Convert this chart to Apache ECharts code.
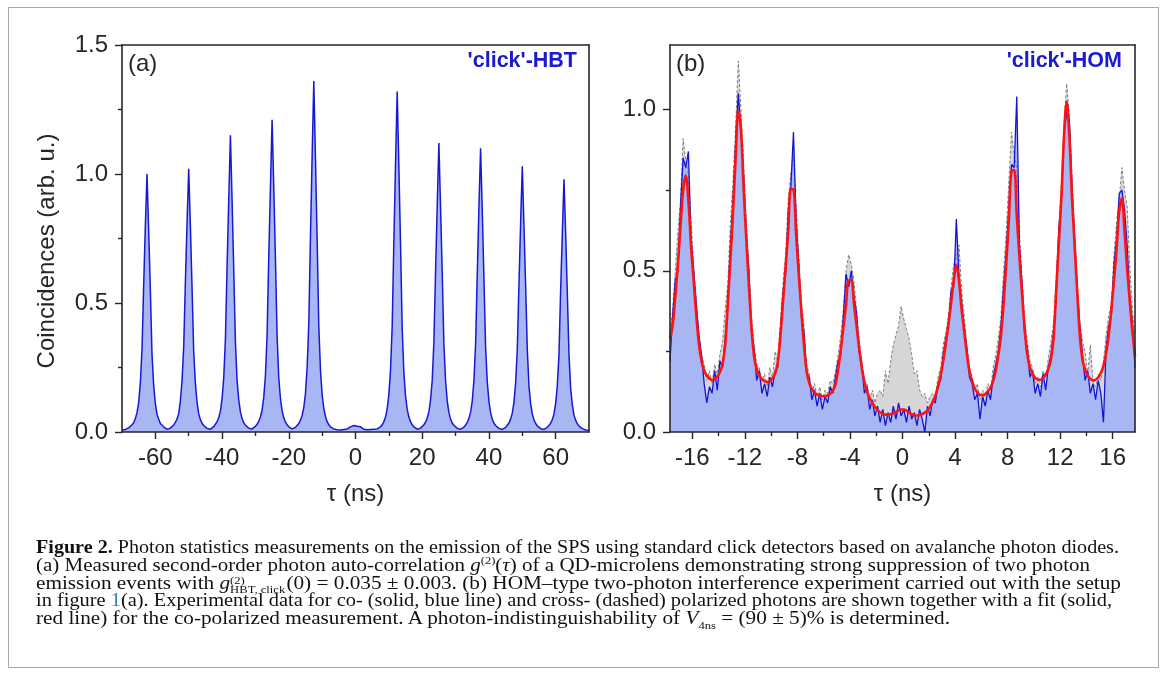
<!DOCTYPE html>
<html><head><meta charset="utf-8">
<script src="https://cdn.jsdelivr.net/npm/echarts@6/dist/echarts.min.js"></script>
<style>
html,body{margin:0;padding:0;background:#fff;}
#wrap{position:relative;width:1168px;height:675px;overflow:hidden;background:#fff;}
#chart{position:absolute;left:0;top:0;width:1168px;height:675px;}
#frame{position:absolute;left:8px;top:7px;width:1151px;height:661px;border:1px solid #a8a8a8;box-sizing:border-box;pointer-events:none;}
#caption{position:absolute;left:36px;top:539px;font-family:"Liberation Serif","DejaVu Serif",serif;font-size:18.5px;color:#111;}
.ln{position:absolute;left:0;white-space:nowrap;transform-origin:0 0;line-height:17.8px;}
.ss{display:inline-block;vertical-align:-4px;font-size:11px;line-height:9px;text-align:left;margin-right:1px;}
.ss span{display:block;}
sup,sub{font-size:11px;line-height:0;}
</style></head>
<body><div id="wrap"><div id="chart"></div><div id="frame"></div>
<div id="caption">
<div class="ln" style="top:0px" data-w="1083"><b>Figure 2.</b> Photon statistics measurements on the emission of the SPS using standard click detectors based on avalanche photon diodes.</div>
<div class="ln" style="top:17.8px" data-w="1054">(a) Measured second-order photon auto-correlation <i>g</i><sup>(2)</sup>(<i>τ</i>) of a QD-microlens demonstrating strong suppression of two photon</div>
<div class="ln" style="top:35.6px" data-w="1085">emission events with <i>g</i><span class="ss"><span>(2)</span><span>HBT, click</span></span>(0) = 0.035 ± 0.003. (b) HOM–type two-photon interference experiment carried out with the setup</div>
<div class="ln" style="top:53.4px" data-w="1076">in figure <span style="color:#2b7fc0">1</span>(a). Experimental data for co- (solid, blue line) and cross- (dashed) polarized photons are shown together with a fit (solid,</div>
<div class="ln" style="top:71.2px" data-w="914">red line) for the co-polarized measurement. A photon-indistinguishability of <i>V</i><sub>4ns</sub> = (90 ± 5)% is determined.</div>
</div>
</div>
<script>
// ---------------- DATA ----------------
// Panel (a): 'click'-HBT, tau from -70 ns in 0.5 ns steps
const tauAStart = -70, tauAStep = 0.5;
const coincA = [
 0.008,0.006,0.010,
 0.014,0.016,0.022,0.028,0.036,0.052,0.075,0.115,0.19,0.32,0.57,0.80,1.00,0.78,0.55,0.30,0.18,0.11,0.068,0.05,0.033,0.026,0.02,0.013,0.01,
 0.012,0.015,0.02,0.027,0.038,0.05,0.072,0.12,0.2,0.33,0.58,0.81,1.02,0.80,0.56,0.31,0.19,0.115,0.07,0.048,0.034,0.025,0.018,0.014,0.01,
 0.011,0.016,0.021,0.03,0.04,0.056,0.08,0.13,0.21,0.36,0.64,0.9,1.15,0.9,0.63,0.35,0.2,0.125,0.078,0.052,0.036,0.026,0.02,0.015,0.011,
 0.012,0.016,0.022,0.03,0.042,0.058,0.085,0.135,0.22,0.38,0.68,0.95,1.21,0.95,0.67,0.37,0.21,0.13,0.082,0.055,0.038,0.028,0.02,0.015,0.012,
 0.013,0.018,0.024,0.033,0.046,0.064,0.095,0.15,0.25,0.42,0.76,1.07,1.36,1.06,0.75,0.41,0.24,0.145,0.09,0.06,0.04,0.028,0.02,0.015,0.012,
 0.01,0.009,0.012,0.008,0.011,0.01,0.014,0.012,0.016,0.02,0.018,0.025,0.03,0.022,0.017,0.02,0.013,0.011,0.015,0.009,0.012,0.01,0.008,0.011,0.01,
 0.012,0.015,0.02,0.028,0.04,0.058,0.09,0.145,0.24,0.41,0.74,1.04,1.32,1.03,0.73,0.4,0.23,0.14,0.088,0.058,0.04,0.028,0.02,0.015,0.011,
 0.011,0.015,0.02,0.028,0.038,0.054,0.078,0.125,0.2,0.35,0.62,0.88,1.12,0.87,0.62,0.34,0.2,0.12,0.076,0.05,0.035,0.026,0.019,0.014,0.011,
 0.011,0.014,0.019,0.027,0.037,0.053,0.077,0.12,0.2,0.34,0.61,0.87,1.10,0.86,0.6,0.33,0.195,0.12,0.075,0.05,0.034,0.025,0.018,0.014,0.01,
 0.01,0.014,0.018,0.026,0.035,0.05,0.073,0.115,0.19,0.32,0.57,0.81,1.03,0.8,0.57,0.32,0.18,0.11,0.07,0.047,0.033,0.024,0.018,0.013,0.01,
 0.01,0.013,0.018,0.025,0.034,0.048,0.07,0.11,0.18,0.3,0.55,0.77,0.98,0.77,0.54,0.3,0.17,0.105,0.066,0.045,0.032,0.023,0.017,0.013,0.01,
 0.008,0.01,0.007
];

// Panel (b): 'click'-HOM, tau from -17.7 ns in 0.2 ns steps
const tauBStart = -17.7, tauBStep = 0.2;
const coPolBlue = [
 0.22,0.36,0.47,0.50,0.70,0.85,0.82,0.87,0.60,0.50,
 0.40,0.30,0.24,0.15,0.09,0.14,0.12,0.19,0.13,0.22,
 0.20,0.29,0.40,0.58,0.72,0.90,1.05,0.93,0.80,0.62,
 0.50,0.31,0.26,0.16,0.19,0.12,0.15,0.11,0.17,0.14,
 0.19,0.20,0.31,0.43,0.49,0.68,0.76,0.93,0.66,0.52,
 0.36,0.31,0.18,0.17,0.10,0.13,0.08,0.12,0.07,0.11,
 0.09,0.14,0.12,0.17,0.22,0.24,0.36,0.49,0.45,0.50,
 0.42,0.37,0.25,0.21,0.12,0.14,0.07,0.10,0.05,0.08,
 0.03,0.07,0.02,0.06,0.03,0.08,0.04,0.09,0.05,0.07,
 0.03,0.08,0.04,0.06,0.02,0.07,0.04,0.00,0.08,0.05,
 0.10,0.09,0.15,0.16,0.24,0.29,0.33,0.44,0.45,0.66,
 0.48,0.40,0.32,0.26,0.17,0.15,0.10,0.12,0.04,0.11,
 0.08,0.13,0.10,0.17,0.21,0.25,0.33,0.45,0.56,0.70,
 0.83,0.82,1.04,0.58,0.46,0.30,0.26,0.17,0.19,0.12,
 0.15,0.11,0.18,0.13,0.20,0.24,0.31,0.42,0.63,0.72,
 0.93,0.99,0.97,0.76,0.60,0.44,0.33,0.24,0.16,0.19,
 0.12,0.15,0.10,0.16,0.12,0.03,0.26,0.33,0.36,0.52,
 0.60,0.74,0.75,0.69,0.58,0.42,0.34,0.20
];
const crossPolGray = [
 0.30,0.38,0.50,0.62,0.72,0.91,0.84,0.80,0.66,0.52,
 0.40,0.31,0.24,0.21,0.16,0.19,0.15,0.21,0.18,0.24,
 0.28,0.38,0.46,0.65,0.78,0.95,1.15,1.00,0.84,0.66,
 0.52,0.36,0.27,0.21,0.20,0.16,0.18,0.14,0.20,0.17,
 0.25,0.22,0.34,0.46,0.55,0.72,0.80,0.86,0.70,0.55,
 0.40,0.33,0.21,0.18,0.12,0.15,0.11,0.14,0.10,0.13,
 0.12,0.16,0.15,0.19,0.24,0.30,0.38,0.50,0.55,0.52,
 0.47,0.38,0.29,0.22,0.16,0.15,0.10,0.13,0.09,0.12,
 0.13,0.11,0.19,0.15,0.22,0.27,0.30,0.33,0.39,0.35,
 0.32,0.29,0.24,0.18,0.19,0.13,0.11,0.12,0.09,0.11,
 0.12,0.11,0.17,0.20,0.27,0.31,0.36,0.45,0.52,0.54,
 0.58,0.44,0.36,0.27,0.20,0.17,0.13,0.15,0.10,0.13,
 0.11,0.15,0.13,0.20,0.24,0.29,0.36,0.50,0.62,0.78,
 0.93,0.86,0.82,0.62,0.48,0.35,0.28,0.22,0.20,0.15,
 0.17,0.14,0.19,0.17,0.23,0.28,0.34,0.48,0.64,0.77,
 0.96,1.08,0.98,0.80,0.62,0.47,0.34,0.28,0.25,0.18,
 0.27,0.16,0.14,0.18,0.16,0.22,0.30,0.36,0.40,0.55,
 0.65,0.72,0.82,0.75,0.70,0.52,0.38,0.30
];
const fitRed = [
 0.29,0.33,0.42,0.52,0.64,0.75,0.795,0.719,0.579,0.471,
 0.363,0.275,0.22,0.19,0.175,0.166,0.162,0.163,0.172,0.186,
 0.21,0.27,0.397,0.536,0.684,0.853,0.997,0.941,0.759,0.605,
 0.461,0.325,0.235,0.195,0.175,0.164,0.158,0.155,0.158,0.166,
 0.18,0.215,0.295,0.402,0.51,0.624,0.753,0.752,0.613,0.491,
 0.375,0.27,0.19,0.152,0.133,0.122,0.116,0.113,0.111,0.111,
 0.114,0.119,0.128,0.148,0.195,0.255,0.325,0.394,0.47,0.47,
 0.40,0.33,0.26,0.20,0.155,0.125,0.105,0.09,0.078,0.068,
 0.061,0.056,0.054,0.054,0.055,0.058,0.062,0.067,0.07,0.07,
 0.066,0.06,0.055,0.052,0.051,0.052,0.055,0.06,0.067,0.078,
 0.093,0.113,0.14,0.175,0.22,0.275,0.335,0.40,0.47,0.519,
 0.47,0.381,0.312,0.243,0.188,0.158,0.135,0.122,0.115,0.114,
 0.118,0.126,0.138,0.158,0.19,0.24,0.30,0.40,0.526,0.66,
 0.81,0.812,0.671,0.546,0.429,0.321,0.24,0.20,0.18,0.168,
 0.163,0.162,0.168,0.178,0.195,0.225,0.29,0.437,0.584,0.731,
 0.921,1.025,0.921,0.73,0.583,0.435,0.301,0.225,0.193,0.175,
 0.165,0.16,0.162,0.17,0.183,0.205,0.245,0.30,0.38,0.47,
 0.57,0.685,0.725,0.624,0.508,0.407,0.312,0.235
];

// Axis ticks
const xTicksA = [-60,-40,-20,0,20,40,60];
const xMinorA = [-50,-30,-10,10,30,50];
const yTicksA = [0,0.5,1.0,1.5];
const yMinorA = [0.25,0.75,1.25];
const xTicksB = [-16,-12,-8,-4,0,4,8,12,16];
const xMinorB = [-14,-10,-6,-2,2,6,10,14];
const yTicksB = [0,0.5,1.0];
const yMinorB = [0.25,0.75];

// ---------------- BUILD ----------------
function pairs(start, step, vals){ return vals.map((v,i)=>[+(start+i*step).toFixed(3), v]); }
const dA = pairs(tauAStart, tauAStep, coincA);
const dBlue = pairs(tauBStart, tauBStep, coPolBlue);
const dGray = pairs(tauBStart, tauBStep, crossPolGray);
const dRed = pairs(tauBStart, tauBStep, fitRed);

const FONT = '"Liberation Sans", Arial, sans-serif';
const AX = '#262626';
const lblStyle = {fontSize:24, fontFamily:FONT, color:'#262626'};

function xAxes(g, min, max, major, minor){
  return [
    {gridIndex:g, type:'value', min, max, position:'bottom', z:10,
     axisLine:{show:true,onZero:false,lineStyle:{color:AX,width:1.6}},
     axisTick:{show:true,customValues:major,length:7,lineStyle:{color:AX,width:1.4}},
     axisLabel:{show:true,customValues:major,margin:14,...lblStyle,formatter:v=>String(v)},
     splitLine:{show:false}},
    {gridIndex:g, type:'value', min, max, position:'bottom', z:10,
     axisLine:{show:false,onZero:false},
     axisTick:{show:true,customValues:minor,length:4,lineStyle:{color:AX,width:1.4}},
     axisLabel:{show:false}, splitLine:{show:false}},
    {gridIndex:g, type:'value', min, max, position:'top', z:10,
     axisLine:{show:true,onZero:false,lineStyle:{color:AX,width:1.6}},
     axisTick:{show:false}, axisLabel:{show:false}, splitLine:{show:false}}
  ];
}
function yAxes(g, min, max, major, minor){
  return [
    {gridIndex:g, type:'value', min, max, position:'left', z:10,
     axisLine:{show:true,onZero:false,lineStyle:{color:AX,width:1.6}},
     axisTick:{show:true,customValues:major,length:7,lineStyle:{color:AX,width:1.4}},
     axisLabel:{show:true,customValues:major,margin:14,...lblStyle,formatter:v=>v.toFixed(1)},
     splitLine:{show:false}},
    {gridIndex:g, type:'value', min, max, position:'left', z:10,
     axisLine:{show:false,onZero:false},
     axisTick:{show:true,customValues:minor,length:4,lineStyle:{color:AX,width:1.4}},
     axisLabel:{show:false}, splitLine:{show:false}},
    {gridIndex:g, type:'value', min, max, position:'right', z:10,
     axisLine:{show:true,onZero:false,lineStyle:{color:AX,width:1.6}},
     axisTick:{show:false}, axisLabel:{show:false}, splitLine:{show:false}}
  ];
}

const FILL = '#a8b6f4';
const option = {
  animation:false,
  backgroundColor:'#ffffff',
  grid:[
    {left:122, top:45, width:467, height:387, containLabel:false},
    {left:670, top:45, width:465, height:387, containLabel:false}
  ],
  xAxis:[...xAxes(0,-70,70,xTicksA,xMinorA), ...xAxes(1,-17.7,17.7,xTicksB,xMinorB)],
  yAxis:[...yAxes(0,0,1.5,yTicksA,yMinorA), ...yAxes(1,0,1.2,yTicksB,yMinorB)],
  series:[
    {type:'line', xAxisIndex:0, yAxisIndex:0, data:dA, showSymbol:false, z:3,
     lineStyle:{color:'#1818d2', width:1.5}, areaStyle:{color:FILL, opacity:1}},
    {type:'line', xAxisIndex:3, yAxisIndex:3, data:dGray, showSymbol:false, z:1,
     lineStyle:{width:0, opacity:0}, areaStyle:{color:'#d6d6d6', opacity:1}},
    {type:'line', xAxisIndex:3, yAxisIndex:3, data:dBlue, showSymbol:false, z:2,
     lineStyle:{width:0, opacity:0}, areaStyle:{color:FILL, opacity:1}},
    {type:'line', xAxisIndex:3, yAxisIndex:3, data:dGray, showSymbol:false, z:3,
     lineStyle:{color:'#808080', width:1, type:[3,2]}},
    {type:'line', xAxisIndex:3, yAxisIndex:3, data:dBlue, showSymbol:false, z:4,
     lineStyle:{color:'#1414d6', width:1.3}},
    {type:'line', xAxisIndex:3, yAxisIndex:3, data:dRed, showSymbol:false, z:5, smooth:0.35,
     lineStyle:{color:'#ff1212', width:2.6}}
  ],
  graphic:[
    {type:'text', x:128, y:52, z:20, style:{text:'(a)', fontSize:24, fontFamily:FONT, fill:'#262626'}},
    {type:'text', x:577, y:50, z:20, style:{text:"'click'-HBT", fontSize:21.5, fontWeight:'bold', fontFamily:FONT, fill:'#1a1ad0', textAlign:'right'}},
    {type:'text', x:676, y:52, z:20, style:{text:'(b)', fontSize:24, fontFamily:FONT, fill:'#262626'}},
    {type:'text', x:1122, y:50, z:20, style:{text:"'click'-HOM", fontSize:21.5, fontWeight:'bold', fontFamily:FONT, fill:'#1a1ad0', textAlign:'right'}},
    {type:'text', x:47, y:251, rotation:Math.PI/2, z:20, style:{text:'Coincidences (arb. u.)', fontSize:24, fontFamily:FONT, fill:'#262626', textAlign:'center', textVerticalAlign:'middle'}},
    {type:'text', x:355.5, y:494, z:20, style:{text:'τ (ns)', fontSize:24, fontFamily:FONT, fill:'#262626', textAlign:'center', textVerticalAlign:'middle'}},
    {type:'text', x:902.5, y:494, z:20, style:{text:'τ (ns)', fontSize:24, fontFamily:FONT, fill:'#262626', textAlign:'center', textVerticalAlign:'middle'}}
  ]
};
const chart = echarts.init(document.getElementById('chart'), null, {renderer:'canvas'});
chart.setOption(option);

// fit caption lines to the reference line widths
document.querySelectorAll('.ln').forEach(el=>{
  const w = el.getBoundingClientRect().width;
  const target = +el.dataset.w;
  if (w>0) el.style.transform = 'scaleX(' + (target/w).toFixed(4) + ')';
});
</script></body></html>
